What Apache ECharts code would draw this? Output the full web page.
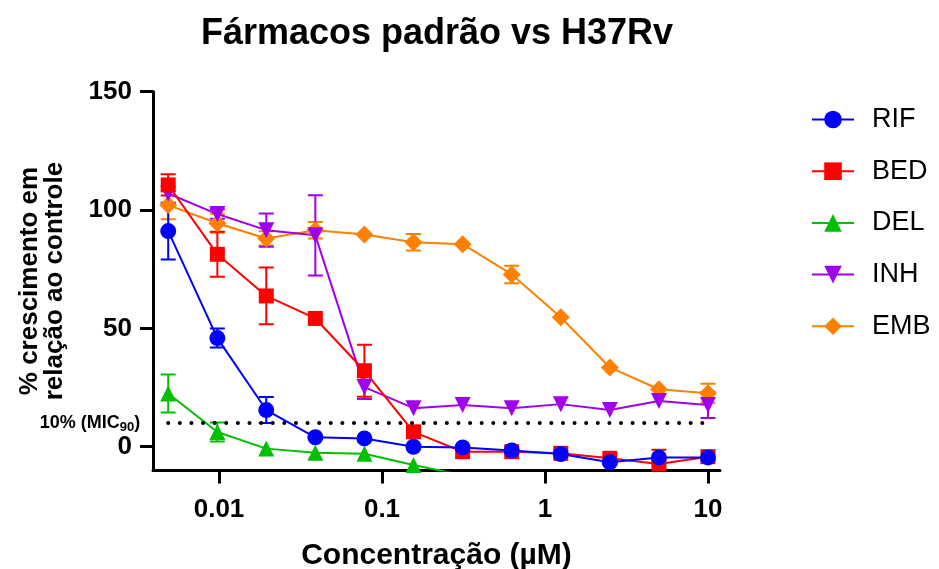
<!DOCTYPE html>
<html><head><meta charset="utf-8">
<script src="https://cdn.jsdelivr.net/npm/echarts@6/dist/echarts.min.js"></script>
<style>html,body{margin:0;padding:0;background:#fff}#c{width:939px;height:569px}</style>
</head><body><div id="c"></div>
<script>
const concentrations = [0.00488, 0.00977, 0.0195, 0.039, 0.078, 0.156, 0.3125, 0.625, 1.25, 2.5, 5, 10];
const seriesNames = ['RIF', 'BED', 'DEL', 'INH', 'EMB'];
const rifMean = [91.1, 45.9, 15.5, 4.0, 3.5, 0.0, -0.3, -1.6, -3.1, -6.6, -4.5, -4.5];
const rifErr  = [12, 4, 5.5, null, null, null, null, null, null, null, null, null];
const bedMean = [110.6, 81.3, 63.7, 54.2, 32.1, 6.3, -2.1, -2.1, -2.8, -4.9, -7.3, -4.2];
const bedErr  = [4.5, 9.5, 12, null, 11, null, null, null, null, null, 6, null];
const delMean = [22.5, 6.2, -0.8, -2.5, -3.0, -7.7, -12.0];
const delErr  = [8, 4, null, null, null, null, null];
const inhMean = [107.0, 98.3, 91.5, 89.3, 25.2, 16.3, 17.6, 16.3, 18.0, 15.5, 19.3, 17.6];
const inhErr  = [null, 2, 7, 17, 5, null, null, null, null, null, null, 5.5];
const embMean = [102.1, 94.4, 88.0, 91.5, 89.7, 86.4, 85.6, 72.8, 54.7, 33.5, 24.3, 22.6];
const embErr  = [6, 4, 3, 3.5, null, 3.5, null, 3.7, null, null, null, 4];
const xTicks = [0.01, 0.1, 1, 10];
const yTicks = [0, 50, 100, 150];
const micLevel = 10;

const colors = {RIF: '#0000FF', BED: '#FF0000', DEL: '#00C000', INH: '#A000EE', EMB: '#FF8000'};
const symbols = {RIF: ['circle', 16, 0], BED: ['rect', 15, 0], DEL: ['triangle', 16, 0], INH: ['triangle', 16, 180], EMB: ['diamond', 18, 0]};
const means = {RIF: rifMean, BED: bedMean, DEL: delMean, INH: inhMean, EMB: embMean};
const errs = {RIF: rifErr, BED: bedErr, DEL: delErr, INH: inhErr, EMB: embErr};
const FONT = '"Liberation Sans", Arial, sans-serif';

function errRender(color) {
  return function (params, api) {
    const x = api.value(0), y = api.value(1), e = api.value(2);
    const top = api.coord([x, y + e]), bot = api.coord([x, y - e]);
    const hw = 7.5;
    const style = {stroke: color, lineWidth: 2, fill: null};
    return {type: 'group', children: [
      {type: 'line', shape: {x1: top[0], y1: top[1], x2: bot[0], y2: bot[1]}, style: style},
      {type: 'line', shape: {x1: top[0] - hw, y1: top[1], x2: top[0] + hw, y2: top[1]}, style: style},
      {type: 'line', shape: {x1: bot[0] - hw, y1: bot[1], x2: bot[0] + hw, y2: bot[1]}, style: style}
    ]};
  };
}

const series = [];
['EMB', 'INH', 'DEL', 'BED', 'RIF'].forEach(function (name) {
  const m = means[name], e = errs[name];
  const errData = [];
  m.forEach(function (v, i) { if (e[i] != null) errData.push([concentrations[i], v, e[i]]); });
  series.push({
    name: name + ' err', type: 'custom', renderItem: errRender(colors[name]),
    data: errData, encode: {x: 0, y: 1}, clip: true, silent: true
  });
  const s = {
    name: name, type: 'line',
    data: m.map(function (v, i) { return [concentrations[i], v]; }),
    symbol: symbols[name][0], symbolSize: symbols[name][1], symbolRotate: symbols[name][2],
    showAllSymbol: true, clip: true,
    lineStyle: {color: colors[name], width: 2},
    itemStyle: {color: colors[name]}
  };
  if (name === 'RIF') {
    s.markLine = {
      silent: true, symbol: 'none',
      lineStyle: {color: '#000', width: 4, type: [0.01, 11.6], cap: 'round'},
      label: {show: true, position: 'start', distance: 28, formatter: '10% (MIC{s|90})',
        color: '#000', fontSize: 18, fontWeight: 'bold', fontFamily: FONT,
        rich: {s: {fontSize: 13, fontWeight: 'bold', fontFamily: FONT, padding: [9, 0, 0, 0], color: '#000'}}},
      data: [[{coord: [concentrations[0], micLevel]}, {coord: [concentrations[concentrations.length - 1], micLevel]}]]
    };
  }
  series.push(s);
});

const chart = echarts.init(document.getElementById('c'));
chart.setOption({
  animation: false,
  backgroundColor: '#fff',
  title: {text: 'Fármacos padrão vs H37Rv', left: 432, top: 11, textAlign: 'center',
    textStyle: {fontSize: 36, fontWeight: 'bold', color: '#000', fontFamily: FONT}},
  legend: {
    orient: 'vertical', left: 806, top: 101, itemWidth: 42, itemHeight: 22, itemGap: 24.7,
    data: seriesNames,
    textStyle: {fontSize: 27, lineHeight: 27, color: '#000', fontFamily: FONT, padding: [0, 0, 0, 13]}
  },
  grid: {left: 153, right: 219, top: 91.7, bottom: 98.6, containLabel: false, outerBoundsMode: 'none'},
  xAxis: {
    type: 'log', logBase: 10, min: 0.003936, max: 11.85,
    name: 'Concentração (µM)', nameLocation: 'middle', nameGap: 70,
    nameTextStyle: {fontSize: 30, fontWeight: 'bold', color: '#000', fontFamily: FONT},
    axisLine: {onZero: false, lineStyle: {color: '#000', width: 3}},
    axisTick: {show: true, length: 13, lineStyle: {color: '#000', width: 3}, customValues: xTicks},
    minorTick: {show: false},
    axisLabel: {customValues: xTicks, margin: 26, fontSize: 26, fontWeight: 'bold', color: '#000', fontFamily: FONT,
      formatter: function (v) { return String(+(+v).toPrecision(3)); }},
    splitLine: {show: false}
  },
  yAxis: {
    type: 'value', min: -10, max: 150,
    name: '% crescimento em\nrelação ao controle', nameLocation: 'middle', nameGap: 86,
    nameTextStyle: {fontSize: 26, lineHeight: 25, fontWeight: 'bold', color: '#000', fontFamily: FONT},
    axisLine: {show: true, onZero: false, lineStyle: {color: '#000', width: 3}},
    axisTick: {show: true, length: 13, lineStyle: {color: '#000', width: 3}, customValues: yTicks},
    axisLabel: {customValues: yTicks, margin: 21, fontSize: 26, fontWeight: 'bold', color: '#000', fontFamily: FONT},
    splitLine: {show: false}
  },
  series: series
});
</script>
</body></html>
